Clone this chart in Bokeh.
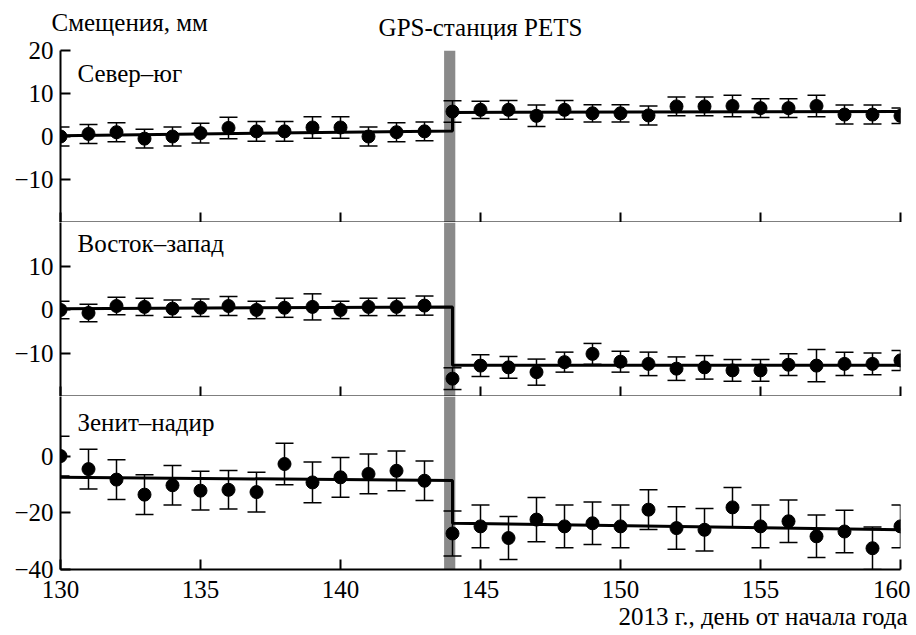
from bokeh.plotting import figure
from bokeh.layouts import column
from bokeh.models import (ColumnDataSource, Whisker, TeeHead, FixedTicker, Label,
                          Title, Range1d, BoxAnnotation)
from bokeh.embed import file_html
from bokeh.resources import INLINE

# ---------------- data ----------------
days = list(range(130, 161))

ns_vals = [0.0, 0.6, 1.0, -0.5, 0.0, 0.8, 2.0, 1.2, 1.2, 2.1, 2.1, 0.0, 1.0, 1.2,
           5.8, 6.2, 6.2, 4.8, 6.2, 5.4, 5.4, 4.9, 7.0, 7.0, 7.1, 6.6, 6.6, 7.1, 5.1, 5.1, 4.8]
ns_err = [2.2, 2.2, 2.2, 2.2, 2.2, 2.3, 2.5, 2.3, 2.3, 2.5, 2.5, 2.2, 2.2, 2.2,
          2.5, 2.0, 2.2, 2.5, 2.2, 2.0, 2.0, 2.2, 2.2, 2.2, 2.5, 2.2, 2.2, 2.5, 2.2, 2.2, 1.8]

ew_vals = [-0.1, -0.8, 0.8, 0.6, 0.2, 0.4, 0.8, -0.1, 0.4, 0.6, -0.1, 0.6, 0.6, 0.9,
           -15.9, -12.9, -13.3, -14.4, -12.1, -10.2, -12.0, -12.5, -13.6, -13.3, -14.0,
           -14.0, -12.7, -12.9, -12.5, -12.5, -11.7]
ew_err = [2.0, 2.0, 2.0, 2.0, 2.0, 2.0, 2.2, 2.0, 2.2, 3.0, 2.0, 2.0, 2.0, 2.2,
          2.5, 2.5, 2.5, 3.0, 2.3, 2.4, 2.4, 2.7, 2.7, 2.7, 2.5, 2.5, 2.5, 3.7, 2.7, 2.5, 2.3]

zn_vals = [0.0, -4.6, -8.3, -13.6, -10.3, -12.2, -11.9, -12.7, -2.8, -9.3, -7.5, -6.3,
           -5.2, -8.7, -27.3, -24.8, -28.9, -22.4, -24.8, -23.7, -24.8, -18.9, -25.4,
           -26.0, -18.1, -24.8, -23.0, -28.3, -26.6, -32.5, -24.8]
zn_err = [7.0, 7.0, 7.0, 7.0, 7.0, 6.8, 6.8, 7.0, 7.3, 7.2, 7.0, 7.0, 7.0, 7.0,
          7.9, 7.5, 7.6, 7.8, 7.5, 7.5, 7.5, 7.0, 7.5, 7.5, 7.0, 7.5, 7.5, 7.5, 7.5, 7.5, 7.5]

# step-model fit: value at start / end of each segment
step_day = 144.0
ns_fit = [0.2, 1.3, 5.6, 5.8]
ew_fit = [0.2, 0.6, -12.8, -12.8]
zn_fit = [-7.5, -8.6, -23.7, -26.0]

band_center = 143.9
band_width = 0.4

panel_names = ["Север–юг", "Восток–запад", "Зенит–надир"]
y_ranges = [(-20, 20), (-20, 20), (-40, 21)]
y_ticks = [[-10, 0, 10, 20], [-10, 0, 10], [-40, -20, 0]]
x_ticks = [130, 135, 140, 145, 150, 155, 160]

title_text = "GPS-станция PETS"
ylabel_text = "Смещения, мм"
xlabel_text = "2013 г., день от начала года"

FONT = "serif"
FS = "25px"

W_LEFT, W_FRAME, W_RIGHT = 60, 840, 10
TOTAL_W = W_LEFT + W_FRAME + W_RIGHT
HEAD_H = 40

# ---------------- header (title + y label) ----------------
head = figure(width=TOTAL_W, height=HEAD_H, output_backend="svg", toolbar_location=None,
              x_range=Range1d(0, TOTAL_W), y_range=Range1d(0, HEAD_H),
              x_axis_location=None, y_axis_location=None, min_border=0)
if "frame_align" in head.properties():
    head.frame_align = False
head.outline_line_color = None
head.xgrid.visible = False
head.ygrid.visible = False
head.add_layout(Label(x=51, y=HEAD_H - 22, text=ylabel_text, text_font=FONT,
                      text_font_size=FS, text_baseline="middle", text_align="left",
                      text_color="black"))
head.add_layout(Label(x=W_LEFT + W_FRAME / 2, y=HEAD_H - 27, text=title_text,
                      text_font=FONT, text_font_size=FS, text_baseline="middle",
                      text_align="center", text_color="black"))

series = [(ns_vals, ns_err, ns_fit), (ew_vals, ew_err, ew_fit), (zn_vals, zn_err, zn_fit)]
frame_heights = [172, 174, 173]
label_offsets = [-23, -21, -26]

figs = [head]
for i, ((vals, errs, fit), name, yr, yt, fh, lo_) in enumerate(
        zip(series, panel_names, y_ranges, y_ticks, frame_heights, label_offsets)):
    p = figure(frame_width=W_FRAME, frame_height=fh, output_backend="svg",
               toolbar_location=None, x_range=Range1d(130, 160),
               y_range=Range1d(*yr), min_border_left=W_LEFT, min_border_right=W_RIGHT,
               min_border_top=50 - HEAD_H if i == 0 else 0,
               min_border_bottom=0)
    p.outline_line_color = None
    p.xgrid.visible = False
    p.ygrid.visible = False

    p.add_layout(BoxAnnotation(left=band_center - band_width / 2,
                               right=band_center + band_width / 2,
                               fill_color="#8a8a8a", fill_alpha=1.0, line_color=None,
                               level="underlay"))

    src = ColumnDataSource(dict(x=days, y=vals,
                                lo=[v - e for v, e in zip(vals, errs)],
                                hi=[v + e for v, e in zip(vals, errs)]))
    w = Whisker(source=src, base="x", lower="lo", upper="hi", line_color="black",
                line_width=1.5,
                lower_head=TeeHead(size=18, line_color="black", line_width=1.5),
                upper_head=TeeHead(size=18, line_color="black", line_width=1.5))
    p.add_layout(w)

    p.line([130, step_day, step_day, 160], fit, line_color="black", line_width=3)
    p.scatter("x", "y", source=src, size=13, color="black")

    for ax in (p.xaxis[0], p.yaxis[0]):
        ax.axis_line_width = 2
        ax.major_tick_line_width = 2
        ax.major_tick_in = 10
        ax.major_tick_out = 0
        ax.minor_tick_line_color = None
        ax.major_label_text_font = FONT
        ax.major_label_text_font_size = FS
        ax.major_label_text_color = "black"
        ax.axis_line_color = "black"
        ax.major_tick_line_color = "black"
    p.yaxis.ticker = FixedTicker(ticks=yt)
    p.yaxis.major_label_standoff = 7
    p.yaxis.major_label_overrides = {t: ("−" + str(abs(t)) if t < 0 else str(t)) for t in yt}
    p.xaxis.ticker = FixedTicker(ticks=x_ticks)
    if i < 2:
        p.xaxis.major_label_overrides = {t: "" for t in x_ticks}
        p.xaxis.major_label_text_font_size = "0px"
        p.xaxis.major_label_standoff = 0
    else:
        p.xaxis.major_label_standoff = 11

    p.add_layout(Label(x=130, y=yr[1], x_offset=17, y_offset=lo_,
                       text=name, text_font=FONT, text_font_size=FS,
                       text_baseline="middle", text_color="black"))
    figs.append(p)

p3 = figs[3]
xt = Title(text=xlabel_text, align="right", offset=-7, text_font=FONT,
           text_font_size=FS, text_font_style="normal", text_color="black", standoff=0)
p3.add_layout(xt, "below")

layout = column(*figs, spacing=0)
open("out.html", "w").write(file_html(layout, INLINE))
